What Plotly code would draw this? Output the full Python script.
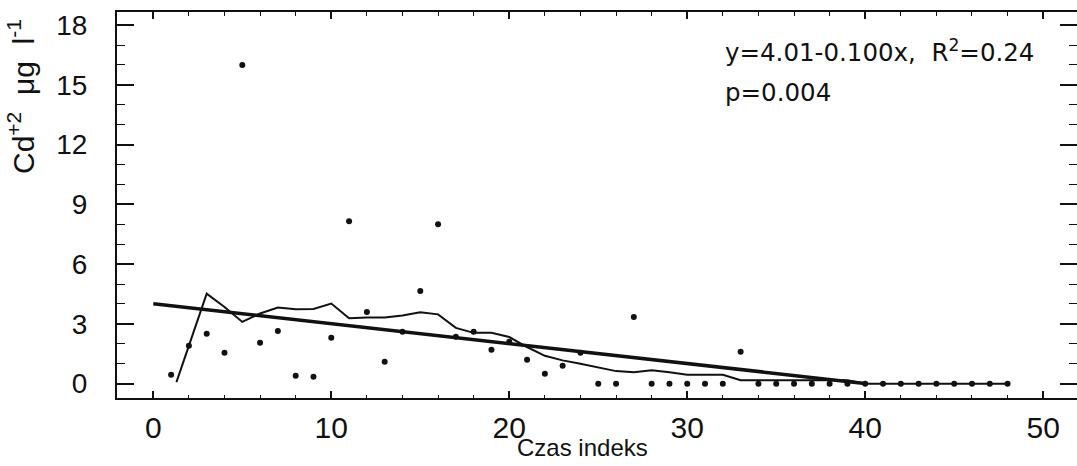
import plotly.graph_objects as go

# ---- data ----
x_index = list(range(1, 49))
cd_values = [0.45, 1.9, 2.5, 1.55, 16.0, 2.05, 2.65, 0.4, 0.35, 2.3,
             8.15, 3.6, 1.1, 2.6, 4.65, 8.0, 2.35, 2.6, 1.7, 2.1,
             1.2, 0.5, 0.9, 1.55, 0.0, 0.0, 3.35, 0.0, 0.0, 0.0,
             0.0, 0.0, 1.6, 0.0, 0.0, 0.0, 0.0, 0.0, 0.0, 0.0,
             0.0, 0.0, 0.0, 0.0, 0.0, 0.0, 0.0, 0.0]

smooth_x = [1.3] + list(range(2, 49))
smooth_y = [0.08, 1.9, 4.52, 3.85, 3.1, 3.52, 3.82, 3.74, 3.75, 4.02,
            3.28, 3.32, 3.32, 3.42, 3.58, 3.48, 2.8, 2.55, 2.56, 2.34,
            1.84, 1.4, 1.17, 1.0, 0.8, 0.63, 0.57, 0.67, 0.57, 0.45,
            0.45, 0.45, 0.17, 0.17, 0.17, 0.17, 0.17, 0.17, 0.17, 0.0,
            0.0, 0.0, 0.0, 0.0, 0.0, 0.0, 0.0, 0.0]

intercept = 4.01
slope = -0.100
reg_x = [0.0, intercept / -slope]
reg_y = [intercept + slope * v for v in reg_x]

x_ticks = [0, 10, 20, 30, 40, 50]
y_ticks = [0, 3, 6, 9, 12, 15, 18]

INK = "#111111"
XTICK_FONT = dict(family="Liberation Sans, Arial, sans-serif", size=30, color=INK)
YTICK_FONT = dict(family="Liberation Sans, Arial, sans-serif", size=28, color=INK)

fig = go.Figure()

fig.add_trace(go.Scatter(x=smooth_x, y=smooth_y, mode="lines",
                         line=dict(color=INK, width=2), hoverinfo="skip"))
fig.add_trace(go.Scatter(x=reg_x, y=reg_y, mode="lines", yaxis="y2",
                         line=dict(color=INK, width=3.5), hoverinfo="skip"))
fig.add_trace(go.Scatter(x=x_index, y=cd_values, mode="markers",
                         marker=dict(color=INK, size=6)))

yr = [-0.72, 18.66]

fig.update_layout(
    width=1077, height=466,
    margin=dict(l=117, r=0, t=12, b=68),
    paper_bgcolor="white", plot_bgcolor="white",
    showlegend=False,
    xaxis=dict(range=[-2.04, 51.9], tickvals=x_ticks, ticktext=[str(v) for v in x_ticks],
               showgrid=False, zeroline=False,
               showline=True, linecolor=INK, linewidth=2, mirror="ticks",
               ticks="inside", ticklen=7, tickwidth=1.5, tickcolor=INK,
               minor=dict(dtick=2, tick0=0, ticks="inside", ticklen=3.5, tickwidth=1.2, tickcolor=INK),
               tickfont=XTICK_FONT, ticklabelstandoff=2),
    yaxis=dict(range=yr, tickvals=y_ticks, ticktext=[str(v) for v in y_ticks],
               showgrid=False, zeroline=False,
               showline=True, linecolor=INK, linewidth=2,
               ticks="inside", ticklen=17, tickwidth=1.5, tickcolor=INK,
               minor=dict(dtick=1, tick0=0, ticks="inside", ticklen=8, tickwidth=1.2, tickcolor=INK),
               tickfont=YTICK_FONT, ticklabelstandoff=22),
    yaxis2=dict(range=yr, overlaying="y", side="right", tickvals=y_ticks,
                showticklabels=False, showgrid=False, zeroline=False, showline=False,
                ticks="inside", ticklen=17, tickwidth=1.5, tickcolor=INK,
                minor=dict(dtick=1, tick0=0, ticks="inside", ticklen=8, tickwidth=1.2, tickcolor=INK)),
)

fig.add_annotation(x=(21 - 117) / 960, y=(398 - 97) / 386, xref="paper", yref="paper",
                   xanchor="center", yanchor="middle",
                   text="Cd<sup>+2</sup>  μg  l<sup>-1</sup>", textangle=-90, showarrow=False,
                   font=dict(family="Liberation Sans, Arial, sans-serif", size=30, color=INK))
fig.add_annotation(x=(582 - 117) / 960, y=(398 - 447) / 386, xref="paper", yref="paper",
                   xanchor="center", yanchor="middle",
                   text="Czas indeks", showarrow=False,
                   font=dict(family="Liberation Sans Narrow, Liberation Sans, sans-serif", size=24, color=INK))
fig.add_annotation(x=(723 - 117) / 960, y=(398 - 51) / 386, xref="paper", yref="paper",
                   xanchor="left", yanchor="middle",
                   text="y=4.01-0.100x,  R<sup>2</sup>=0.24", showarrow=False,
                   font=dict(family="DejaVu Sans, sans-serif", size=24.5, color=INK))
fig.add_annotation(x=(723 - 117) / 960, y=(398 - 93) / 386, xref="paper", yref="paper",
                   xanchor="left", yanchor="middle",
                   text="p=0.004", showarrow=False,
                   font=dict(family="DejaVu Sans, sans-serif", size=24.5, color=INK))

fig.write_html("out.html")
